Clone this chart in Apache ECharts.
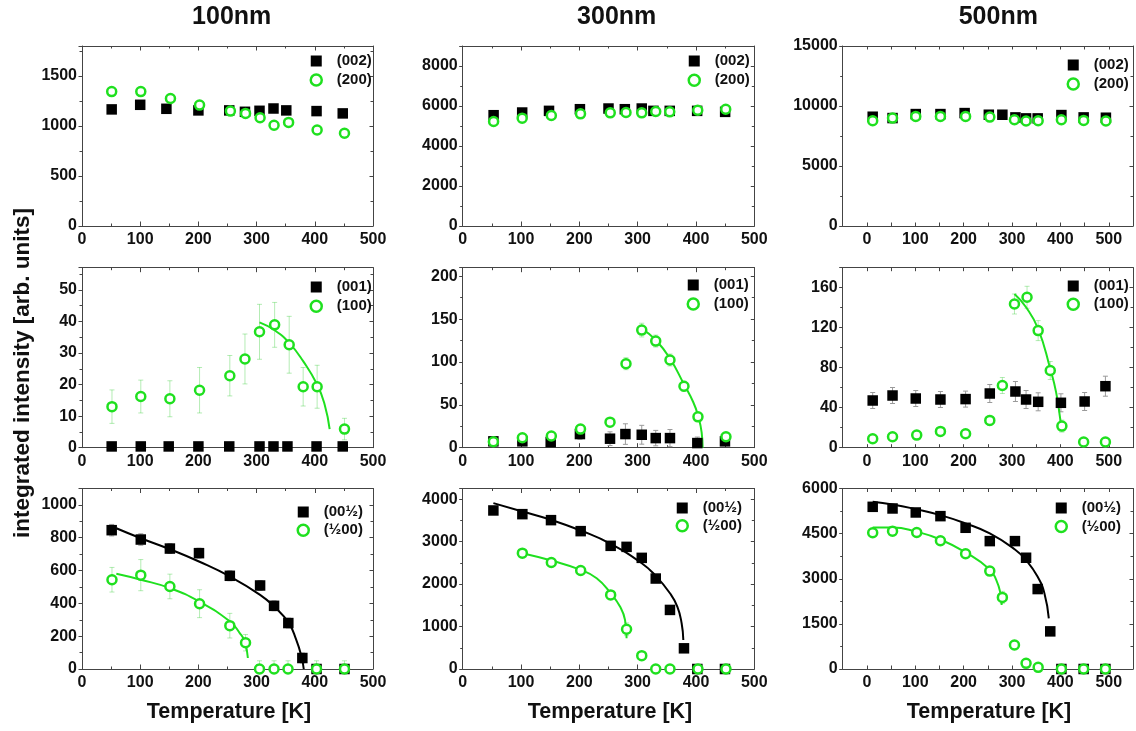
<!DOCTYPE html>
<html><head><meta charset="utf-8">
<script src="https://cdn.jsdelivr.net/npm/echarts@6/dist/echarts.min.js"></script>
<style>html,body{margin:0;padding:0;background:#fff}#c{width:1136px;height:731px}</style>
</head><body><div id="c"></div>
<script>
// ---------- text ----------
const colTitles = ['100nm', '300nm', '500nm'];
const xTitle = 'Temperature [K]';
const yTitle = 'integrated intensity [arb. units]';
const legendNames = [['(002)', '(200)'], ['(001)', '(100)'], ['(00½)', '(½00)']];
const x10Text = 'x10';

// ---------- data: 100nm ----------
const T_a1_sq = [51, 100, 145, 200, 253, 280, 305, 329, 351, 403, 448];
const I_a1_sq = [1166, 1212, 1172, 1156, 1156, 1142, 1152, 1175, 1156, 1149, 1126];
const T_a1_ci = [51, 101, 152, 202, 255, 281, 306, 330, 355, 404, 451];
const I_a1_ci = [1344, 1344, 1275, 1209, 1149, 1126, 1083, 1007, 1036, 960, 927];

const T_a2_sq = [51, 101, 149, 200, 253, 305, 329, 353, 403, 448];
const I_a2_sq = [0.4, 0.4, 0.4, 0.4, 0.4, 0.4, 0.4, 0.4, 0.4, 0.4];
const T_a2_ci = [51.5, 101, 151, 202, 254, 280, 305, 331, 356, 380, 404, 451];
const I_a2_ci = [13.0, 16.2, 15.5, 18.2, 22.8, 28.1, 36.7, 38.9, 32.6, 19.3, 19.3, 5.9];
const E_a2_ci = [5.3, 5.2, 5.7, 7.2, 6.4, 7.9, 8.7, 7.1, 9.0, 6.1, 6.8, 3.4];
const T_a2_fit = [305, 331, 356, 380, 404, 417, 425.5];
const I_a2_fit = [39.7, 37.2, 33.2, 27.4, 20.0, 13.6, 5.9];

const T_a3_sq = [51, 101, 151, 201, 254, 306, 330, 354.5, 378.6, 403, 451];
const I_a3_sq = [846, 789, 734, 706, 568, 509, 385, 280, 67, 0, 0];
const E_a3_sq = [35, 35, 30, 30, 30, 30, 30, 30, 30, 0, 0];
const T_a3_ci = [51.5, 101, 151, 202, 254, 281, 305, 330, 354, 403, 451];
const I_a3_ci = [544, 572, 503, 398, 264, 160, 0, 0, 0, 0, 0];
const E_a3_ci = [75, 95, 75, 85, 75, 50, 50, 50, 50, 50, 50];
const T_a3_fitB = [59, 101, 151, 201, 254, 306, 330, 354.5, 368, 377, 381];
const I_a3_fitB = [858, 797, 730, 655, 564, 452, 381, 284, 179, 77, 0];
const T_a3_fitG = [59, 101, 151, 201, 254, 271, 279.5, 285];
const I_a3_fitG = [580, 544, 493, 412, 290, 219, 168, 67];
const X10_a3 = [80, 357];

// ---------- data: 300nm ----------
const T_b1_sq = [53, 102, 148, 201, 250, 278, 307, 327, 355, 402, 450];
const I_b1_sq = [5540, 5674, 5757, 5840, 5874, 5840, 5874, 5757, 5757, 5757, 5707];
const T_b1_ci = [53, 102, 152, 202, 253, 280, 307, 331, 355, 403, 451];
const I_b1_ci = [5225, 5391, 5524, 5607, 5657, 5674, 5657, 5724, 5707, 5790, 5840];

const T_b2_sq = [52.6, 102.3, 150.9, 201, 252.6, 279, 307, 331, 355.4, 402.3, 449.7];
const I_b2_sq = [7.4, 7.4, 6.6, 15.9, 10.5, 15.9, 15.1, 11.2, 11.2, 5.4, 7.4];
const E_b2_sq = [3, 3, 3, 6, 8, 12, 11, 9, 10, 7, 4];
const T_b2_ci = [52.6, 102.3, 152, 202, 252.6, 280, 307, 331, 355.4, 379.4, 403.4, 451.4];
const I_b2_ci = [7, 11.6, 13.6, 21.7, 29.8, 98, 137.2, 124.4, 102.3, 71.7, 36, 12.8];
const E_b2_ci = [2, 3, 3, 4, 4, 7, 8, 7, 7, 6, 5, 3];
const T_b2_fit = [307, 331, 355.4, 379.4, 395.4, 403.4, 409.7, 411.4];
const I_b2_fit = [139, 125.6, 104, 74, 53, 37.6, 18, 0];

const T_b3_sq = [52.6, 102.3, 151.4, 202.3, 253.7, 281, 307, 331, 355.4, 379.4, 402.3, 449.7];
const I_b3_sq = [3733, 3646, 3505, 3246, 2900, 2876, 2617, 2130, 1391, 487, 0, 0];
const E_b3_sq = [60, 60, 60, 60, 60, 60, 60, 60, 60, 60, 0, 0];
const T_b3_ci = [102.3, 152, 202.3, 253.7, 281, 307, 331, 355.4, 403.4, 451.4];
const I_b3_ci = [2727, 2507, 2318, 1745, 935, 314, 0, 0, 0, 0];
const E_b3_ci = [60, 60, 60, 80, 150, 60, 40, 40, 40, 40];
const T_b3_fitB = [52.6, 102.3, 151.4, 202.3, 253.7, 307, 331, 355.4, 368, 375.4, 378.3];
const I_b3_fitB = [3906, 3709, 3513, 3261, 2947, 2491, 2193, 1784, 1470, 1077, 684];
const T_b3_fitG = [102.3, 152, 202.3, 229.7, 253.7, 269.7, 278.3, 281];
const I_b3_fitG = [2727, 2554, 2334, 2138, 1784, 1470, 1155, 723];
const X10_b3 = [134, 1780];

// ---------- data: 500nm ----------
const T_c1_sq = [12, 53, 101, 152, 202, 252, 280, 307, 329, 353, 402, 448, 494];
const I_c1_sq = [9106, 8995, 9327, 9327, 9410, 9272, 9272, 9050, 8968, 8968, 9245, 9050, 9023];
const T_c1_ci = [12, 53, 101, 152, 204, 254, 305, 329, 354, 402, 448, 494];
const I_c1_ci = [8774, 8995, 9133, 9133, 9133, 9078, 8857, 8746, 8774, 8857, 8801, 8746];

const T_c2_sq = [12, 53, 101, 152, 204, 254, 307, 329, 354, 401, 450, 493];
const I_c2_sq = [47.2, 52.2, 49.2, 48.2, 48.6, 54.2, 56.2, 48.2, 45.9, 44.9, 46.2, 61.5];
const E_c2_sq = [8, 8, 8, 8, 8, 9, 10, 9, 9, 9, 9, 10];
const T_c2_ci = [12, 53, 103, 152, 204, 254, 280, 305, 331, 354, 379, 403, 448, 493];
const I_c2_ci = [9, 11, 12.6, 16.3, 14, 27.3, 62.2, 143.7, 150.4, 117.1, 77.2, 21.6, 5.7, 5.7];
const E_c2_ci = [3, 3, 3, 3, 3, 5, 8, 10, 11, 10, 9, 6, 3, 3];
const T_c2_fit = [305, 329, 354, 379, 391, 399.5, 401.5];
const I_c2_fit = [153.7, 140.4, 118.8, 78.8, 55.6, 29, 20.6];

const T_c3_sq = [12, 53, 101, 152, 204, 254, 306, 329, 353, 379, 402, 448, 493];
const I_c3_sq = [5391, 5336, 5203, 5081, 4694, 4251, 4251, 3698, 2657, 1251, 0, 0, 0];
const E_c3_sq = [60, 60, 60, 60, 60, 60, 60, 60, 60, 60, 0, 0, 0];
const T_c3_ci = [12, 53, 103, 152, 204, 254, 280, 305, 329, 354, 402, 448, 493];
const I_c3_ci = [4528, 4583, 4539, 4262, 3830, 3255, 2380, 797, 188, 55, 0, 0, 0];
const E_c3_ci = [60, 60, 60, 80, 80, 100, 200, 80, 60, 40, 40, 40, 40];
const T_c3_fitB = [12, 53, 101, 152, 204, 254, 306, 329, 353, 367, 376];
const I_c3_fitB = [5557, 5469, 5314, 5115, 4838, 4506, 3974, 3620, 3066, 2513, 1683];
const T_c3_fitG = [12, 53, 103, 152, 204, 254, 267.5, 276, 278.5];
const I_c3_fitG = [4705, 4705, 4561, 4306, 3875, 3310, 2956, 2513, 2126];
const X10_c3 = [111, 3344];

// ---------- axes (values) ----------
const yMax = [[1800, 9000, 15000], [57, 210, 180], [1100, 4250, 6000]];
const yStep = [[500, 2000, 5000], [10, 50, 40], [200, 1000, 1500]];

// ---------- layout / style ----------
const FONT = "'Liberation Sans', Arial, Helvetica, sans-serif";
const GREEN = '#1fe01f';
const GREEN_ERR = 'rgba(40,200,40,0.35)';
const GREY_ERR = '#9a9a9a';
const AX = '#444';
const colLeft = [82, 462.7, 842.7];
const colWidth = [291, 291.6, 291];
const rowTop = [46, 267.7, 488.5];
const rowHeight = [180, 180, 180.5];
const legendPos = [
  [[315, 61, 19], [693, 61, 19.3], [1072, 65, 19]],
  [[315, 287, 19.3], [692, 285, 19], [1072, 286, 18.3]],
  [[302, 512, 18.3], [681, 508, 17.7], [1060, 508, 18.4]]
];
const colTitleX = [231.7, 616.7, 998.3];
const xTitleX = [229, 610, 989];

function pts(T, I) { return T.map((t, k) => [t, I[k]]); }
function errPts(T, I, E) { return T.map((t, k) => [t, I[k], E[k]]); }

const panels = [
  {r:0, c:0, sq:[T_a1_sq, I_a1_sq], ci:[T_a1_ci, I_a1_ci]},
  {r:0, c:1, sq:[T_b1_sq, I_b1_sq], ci:[T_b1_ci, I_b1_ci]},
  {r:0, c:2, sq:[T_c1_sq, I_c1_sq], ci:[T_c1_ci, I_c1_ci]},
  {r:1, c:0, sq:[T_a2_sq, I_a2_sq], ci:[T_a2_ci, I_a2_ci], ciE:E_a2_ci, fitG:[T_a2_fit, I_a2_fit]},
  {r:1, c:1, sq:[T_b2_sq, I_b2_sq], sqE:E_b2_sq, ci:[T_b2_ci, I_b2_ci], ciE:E_b2_ci, fitG:[T_b2_fit, I_b2_fit]},
  {r:1, c:2, sq:[T_c2_sq, I_c2_sq], sqE:E_c2_sq, ci:[T_c2_ci, I_c2_ci], ciE:E_c2_ci, fitG:[T_c2_fit, I_c2_fit]},
  {r:2, c:0, sq:[T_a3_sq, I_a3_sq], sqE:E_a3_sq, ci:[T_a3_ci, I_a3_ci], ciE:E_a3_ci, fitB:[T_a3_fitB, I_a3_fitB], fitG:[T_a3_fitG, I_a3_fitG], x10:X10_a3, x10Size:18},
  {r:2, c:1, sq:[T_b3_sq, I_b3_sq], sqE:E_b3_sq, ci:[T_b3_ci, I_b3_ci], ciE:E_b3_ci, fitB:[T_b3_fitB, I_b3_fitB], fitG:[T_b3_fitG, I_b3_fitG], x10:X10_b3, x10Size:20},
  {r:2, c:2, sq:[T_c3_sq, I_c3_sq], sqE:E_c3_sq, ci:[T_c3_ci, I_c3_ci], ciE:E_c3_ci, fitB:[T_c3_fitB, I_c3_fitB], fitG:[T_c3_fitG, I_c3_fitG], x10:X10_c3, x10Size:20}
];

function errRender(color) {
  return function (params, api) {
    const x = api.value(0), y = api.value(1), e = api.value(2);
    if (!e) return null;
    const p1 = api.coord([x, y - e]), p2 = api.coord([x, y + e]);
    const cap = 2.5;
    const st = {stroke: color, lineWidth: 1};
    return {type: 'group', children: [
      {type: 'line', shape: {x1: p1[0], y1: p1[1], x2: p2[0], y2: p2[1]}, style: st},
      {type: 'line', shape: {x1: p1[0] - cap, y1: p1[1], x2: p1[0] + cap, y2: p1[1]}, style: st},
      {type: 'line', shape: {x1: p2[0] - cap, y1: p2[1], x2: p2[0] + cap, y2: p2[1]}, style: st}
    ]};
  };
}

const labelStyle = {fontFamily: FONT, fontSize: 16, fontWeight: 'bold', color: '#111'};
const lineSt = {color: AX, width: 1};
const option = {animation: false, backgroundColor: '#fff', grid: [], xAxis: [], yAxis: [], legend: [], series: [], graphic: []};

panels.forEach((p, g) => {
  const r = p.r, c = p.c;
  option.grid.push({left: colLeft[c], top: rowTop[r], width: colWidth[c], height: rowHeight[r]});
  const xa = c === 2 ? {min: -50, max: 550, interval: 50} : {min: 0, max: 500, interval: 100};
  const fmt = v => (v >= 0 && v <= 500 && v % 100 === 0) ? String(v) : '';
  option.xAxis.push({gridIndex: g, type: 'value', position: 'bottom', ...xa,
    axisLine: {show: true, onZero: false, lineStyle: lineSt},
    axisTick: {show: true, inside: true, length: c === 2 ? 3.5 : 4.5, lineStyle: lineSt},
    minorTick: {show: c !== 2, splitNumber: 2, length: 2.5, lineStyle: lineSt},
    splitLine: {show: false},
    axisLabel: {...labelStyle, margin: 6, formatter: fmt}});
  option.xAxis.push({gridIndex: g, type: 'value', position: 'top', ...xa,
    axisLine: {show: true, onZero: false, lineStyle: lineSt},
    axisTick: {show: true, inside: true, length: c === 2 ? 3.5 : 4.5, lineStyle: lineSt},
    minorTick: {show: c !== 2, splitNumber: 2, length: 2.5, lineStyle: lineSt},
    splitLine: {show: false}, axisLabel: {show: false}});
  const ya = {min: 0, max: yMax[r][c], interval: yStep[r][c]};
  option.yAxis.push({gridIndex: g, type: 'value', position: 'left', ...ya,
    axisLine: {show: true, onZero: false, lineStyle: lineSt},
    axisTick: {show: true, inside: false, length: 3.5, lineStyle: lineSt},
    minorTick: {show: true, splitNumber: 2, length: 2.5, lineStyle: lineSt},
    splitLine: {show: false},
    axisLabel: {...labelStyle, margin: 5, formatter: v => String(v), showMaxLabel: yMax[r][c] % yStep[r][c] === 0}});
  option.yAxis.push({gridIndex: g, type: 'value', position: 'right', ...ya,
    axisLine: {show: true, onZero: false, lineStyle: lineSt},
    axisTick: {show: true, inside: true, length: 3.5, lineStyle: lineSt},
    minorTick: {show: true, splitNumber: 2, length: 2.5, lineStyle: lineSt},
    splitLine: {show: false}, axisLabel: {show: false}});

  const ax = {xAxisIndex: 2 * g, yAxisIndex: 2 * g};
  const [nSq, nCi] = legendNames[r];
  if (p.sqE) option.series.push({type: 'custom', ...ax, name: 'errSq' + g, renderItem: errRender(GREY_ERR), data: errPts(p.sq[0], p.sq[1], p.sqE), z: 1, silent: true, clip: true});
  if (p.ciE) option.series.push({type: 'custom', ...ax, name: 'errCi' + g, renderItem: errRender(GREEN_ERR), data: errPts(p.ci[0], p.ci[1], p.ciE), z: 1, silent: true, clip: true});
  if (p.fitB) option.series.push({type: 'line', ...ax, name: 'fitB' + g, data: pts(p.fitB[0], p.fitB[1]), smooth: 0.5, showSymbol: false, symbol: 'none', lineStyle: {color: '#000', width: 2}, z: 2, silent: true});
  if (p.fitG) option.series.push({type: 'line', ...ax, name: 'fitG' + g, data: pts(p.fitG[0], p.fitG[1]), smooth: 0.5, showSymbol: false, symbol: 'none', lineStyle: {color: GREEN, width: 2}, z: 2, silent: true});
  option.series.push({type: 'scatter', ...ax, name: nSq, data: pts(p.sq[0], p.sq[1]), symbol: 'rect', symbolSize: 10.5, itemStyle: {color: '#000', opacity: 1}, z: 3, silent: true});
  option.series.push({type: 'scatter', ...ax, name: nCi, data: pts(p.ci[0], p.ci[1]), symbol: 'circle', symbolSize: 9, itemStyle: {color: '#fff', borderColor: GREEN, borderWidth: 2.5, opacity: 1}, z: 4, silent: true});
  if (p.x10) option.series.push({type: 'scatter', ...ax, name: 'x10_' + g, data: [p.x10], symbolSize: 1, itemStyle: {opacity: 0}, z: 5, silent: true,
    label: {show: true, position: 'inside', formatter: x10Text, color: GREEN, fontFamily: FONT, fontSize: p.x10Size, fontWeight: 'bold'}});

  const [lx, ly, lgap] = legendPos[r][c];
  const iw = 11;
  option.legend.push({orient: 'vertical', left: lx - iw / 2, top: ly - 7.5, itemWidth: iw, itemHeight: iw, itemGap: lgap - 15, selectedMode: false, padding: 0,
    textStyle: {fontFamily: FONT, fontSize: 15, fontWeight: 'bold', color: '#111', lineHeight: 15, padding: [0, 0, 0, 10]},
    data: [
      {name: nSq, icon: 'rect', itemStyle: {color: '#000', borderWidth: 0, opacity: 1}},
      {name: nCi, icon: 'circle', itemStyle: {color: '#fff', borderColor: GREEN, borderWidth: 2.5, opacity: 1}}
    ]});
});

colTitles.forEach((t, c) => option.graphic.push({type: 'text', x: colTitleX[c], y: 17, silent: true,
  style: {text: t, fill: '#111', font: "bold 25px " + FONT, align: 'center', verticalAlign: 'middle'}}));
xTitleX.forEach(x => option.graphic.push({type: 'text', x: x, y: 712, silent: true,
  style: {text: xTitle, fill: '#111', font: "bold 21.5px " + FONT, align: 'center', verticalAlign: 'middle'}}));
option.graphic.push({type: 'text', x: 22.5, y: 373, rotation: Math.PI / 2, silent: true,
  style: {text: yTitle, fill: '#111', font: "bold 22.5px " + FONT, align: 'center', verticalAlign: 'middle'}});

const chart = echarts.init(document.getElementById('c'), null, {renderer: 'canvas'});
chart.setOption(option);
</script></body></html>
